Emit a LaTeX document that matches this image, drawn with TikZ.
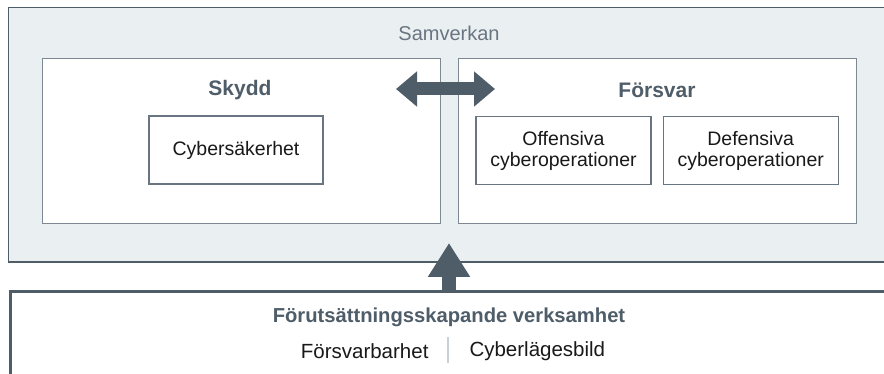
\documentclass[tikz,border=0pt]{standalone}
\usepackage{fontspec}
\setmainfont{Liberation Sans}
\usetikzlibrary{positioning,arrows.meta}

\definecolor{slate}{HTML}{4F5D69}
\definecolor{panel}{HTML}{EAEFF2}
\definecolor{frame}{HTML}{7D8892}
\definecolor{divider}{HTML}{C9D0D6}

\begin{document}
\begin{tikzpicture}[x=1pt, y=-1pt,
		every node/.style={font=\fontsize{19.5}{21}\selectfont, text=black!90},
		area/.style={draw=frame, fill=white, line width=1pt, minimum width=398pt, minimum height=165pt, inner sep=0pt},
		unit/.style={draw=slate!85, fill=white, line width=1.2pt, minimum width=175pt, minimum height=68pt, align=center, inner sep=0pt},
		title/.style={font=\bfseries\fontsize{21}{24}\selectfont, text=slate},
		flow/.style={draw=slate, line width=13pt}]
		\useasboundingbox (0,0) rectangle (884,374);

		% samverkan frame
		\node[fill=panel, draw=slate, line width=1pt, anchor=north west, minimum width=900pt, minimum height=254pt, inner sep=0pt] (samverkan) at (8,7) {};
		\draw[slate, line width=2pt] (samverkan.south west) -- (samverkan.south east);
		\node[text=slate!85, font=\fontsize{20}{22}\selectfont] (samlabel) at (449,33) {Samverkan};

		% skydd and forsvar
		\node[area] (skydd) at (241,141.5) {};
		\node[area] (forsvar) at (657,141.5) {};
		\node[title] (skyddlabel) at (240,90) {Skydd};
		\node[title] (forsvarlabel) at (657,90) {Försvar};

		\node[unit, minimum width=174pt] (cyber) at (236,150) {Cybersäkerhet};
		\node[unit] (off) at (563.5,150.5) {Offensiva\\cyberoperationer};
		\node[unit] (def) [right=11pt of off] {Defensiva\\cyberoperationer};

		% link between the two
		\coordinate (linkL) at (396,89);
		\coordinate (linkR) at (495,89);
		\draw[flow, {Triangle[length=21pt,width=34pt]}-{Triangle[length=21pt,width=34pt]}] (linkL) -- (linkR);

		% base activities
		\node[draw=slate, line width=3pt, fill=white, anchor=north west, minimum width=900pt, minimum height=120pt, inner sep=0pt] (basis) at (8.5,290) {};
		\node[font=\bfseries\fontsize{20.2}{22}\selectfont, text=slate] (basislabel) at (449,317) {Förutsättningsskapande verksamhet};
		\node[anchor=east, font=\fontsize{20.5}{22}\selectfont] (forsvarbar) at (432,351) {Försvarbarhet};
		\node[anchor=west, font=\fontsize{20.5}{22}\selectfont] (lagesbild) at (466,351) {Cyberlägesbild};
		\coordinate (sepTop) at (448,337);
		\coordinate (sepBot) at (448,363);
		\draw[divider, line width=1.2pt] (sepTop) -- (sepBot);

		\coordinate (rise) at (449,290);
		\coordinate (peak) at (449,243);
		\draw[flow, line width=14pt, -{Triangle[length=34pt,width=40pt]}] (rise) -- (peak);
	\end{tikzpicture}
\end{document}
